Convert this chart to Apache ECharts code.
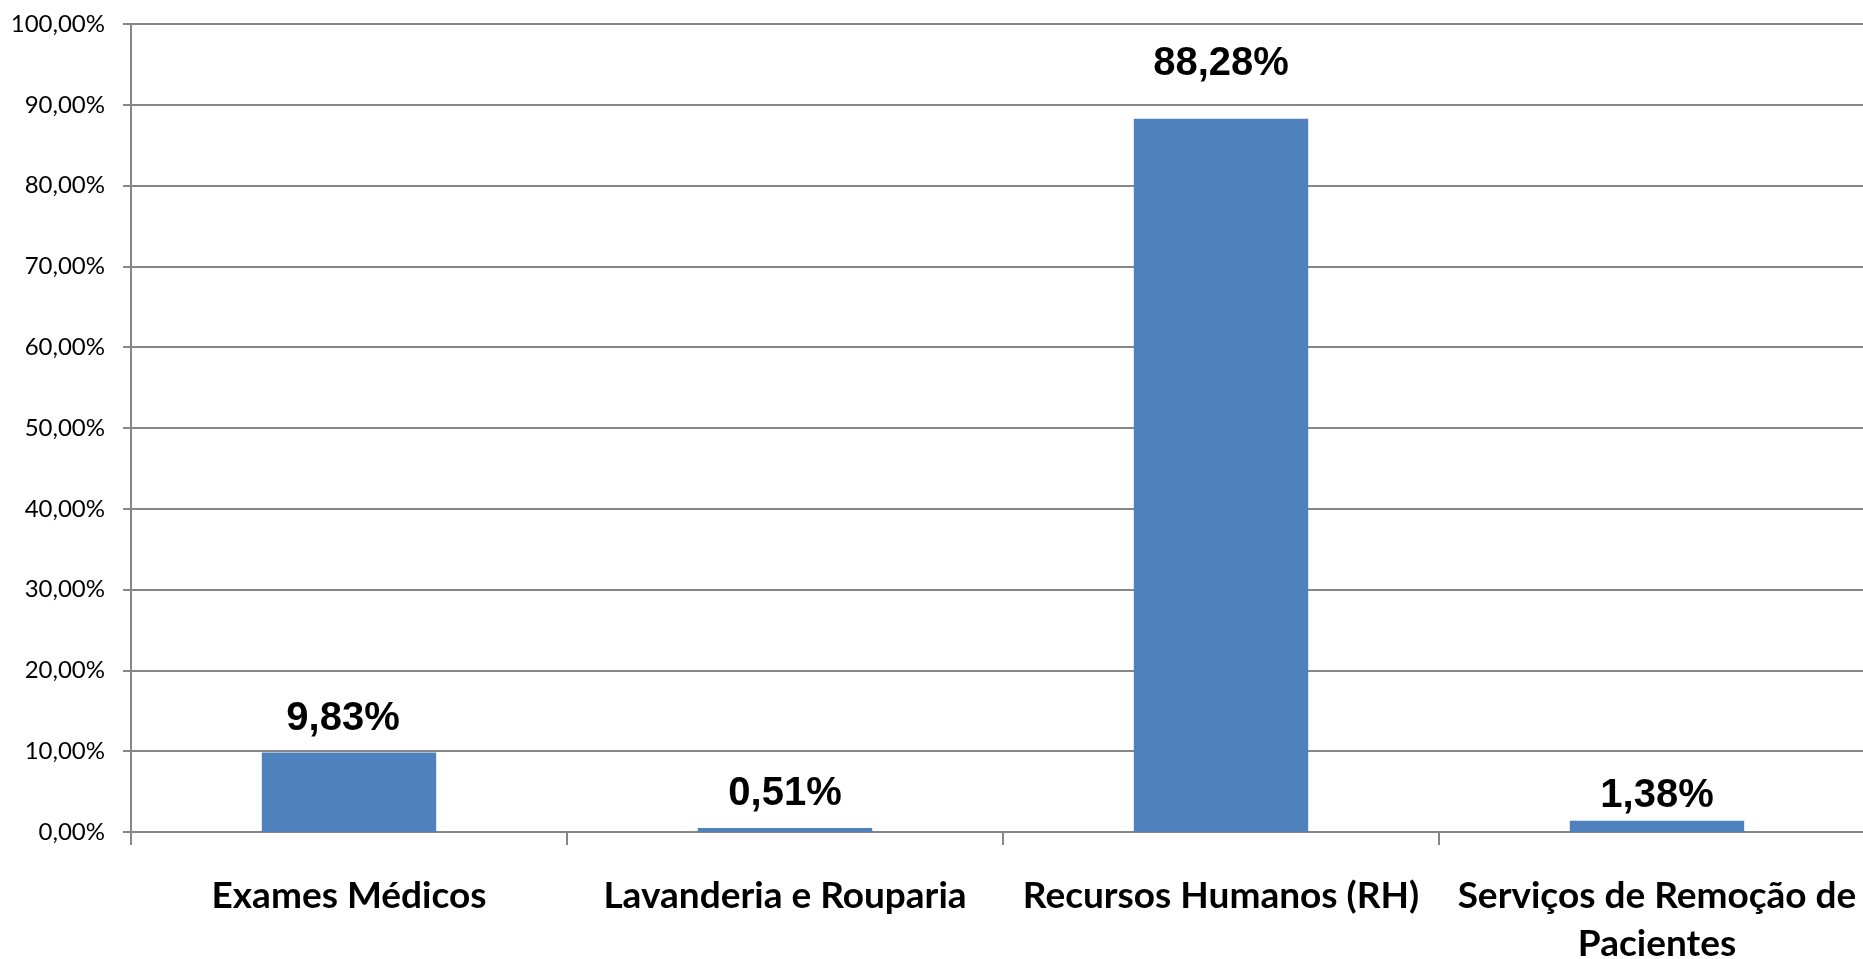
<!DOCTYPE html>
<html>
<head>
<meta charset="utf-8">
<style>
html,body{margin:0;padding:0;background:#fff;overflow:hidden;}
#chart{width:1863px;height:959px;}
</style>
<script src="https://cdn.jsdelivr.net/npm/echarts@6/dist/echarts.min.js"></script>
</head>
<body>
<div id="chart"></div>
<script>
const categories = ['Exames Médicos', 'Lavanderia e Rouparia', 'Recursos Humanos (RH)', 'Serviços de Remoção de\nPacientes'];
const values = [9.83, 0.51, 88.28, 1.38];
const yTicks = [0, 10, 20, 30, 40, 50, 60, 70, 80, 90, 100];

// per-label placement (style only)
const labelDistance = [14, 14, 35, 5];
const labelOffsetX = [-6, 0, 0, 0];

function fmt(v) { return v.toFixed(2).replace('.', ',') + '%'; }

const chart = echarts.init(document.getElementById('chart'));
chart.setOption({
  animation: false,
  backgroundColor: '#ffffff',
  grid: { left: 131, top: 24, width: 1744, height: 808, containLabel: false, outerBoundsMode: 'none' },
  xAxis: {
    type: 'category',
    data: categories,
    boundaryGap: true,
    axisLine: { show: true, lineStyle: { color: '#868686', width: 2 } },
    axisTick: { show: true, length: 13, lineStyle: { color: '#868686', width: 2 } },
    axisLabel: {
      margin: 40,
      color: '#000000',
      fontFamily: 'Lato',
      fontWeight: 'bold',
      fontSize: 37,
      lineHeight: 48,
      interval: 0
    }
  },
  yAxis: {
    type: 'value',
    min: yTicks[0],
    max: yTicks[yTicks.length - 1],
    interval: 10,
    axisLine: { show: true, lineStyle: { color: '#868686', width: 2 } },
    axisTick: { show: true, length: 8, lineStyle: { color: '#868686', width: 2 } },
    splitLine: { show: true, lineStyle: { color: '#868686', width: 2 } },
    axisLabel: {
      margin: 26,
      color: '#000000',
      fontFamily: 'Lato',
      fontSize: 24,
      formatter: function (v) { return fmt(v); }
    }
  },
  series: [{
    type: 'bar',
    barWidth: '40%',
    itemStyle: { color: '#4F81BD' },
    data: values.map(function (v, i) {
      return {
        value: v,
        label: { distance: labelDistance[i], offset: [labelOffsetX[i], 0] }
      };
    }),
    label: {
      show: true,
      position: 'top',
      color: '#000000',
      fontFamily: 'Liberation Sans',
      fontWeight: 'bold',
      fontSize: 40,
      lineHeight: 40,
      formatter: function (p) { return fmt(p.value); }
    }
  }]
});
</script>
</body>
</html>
